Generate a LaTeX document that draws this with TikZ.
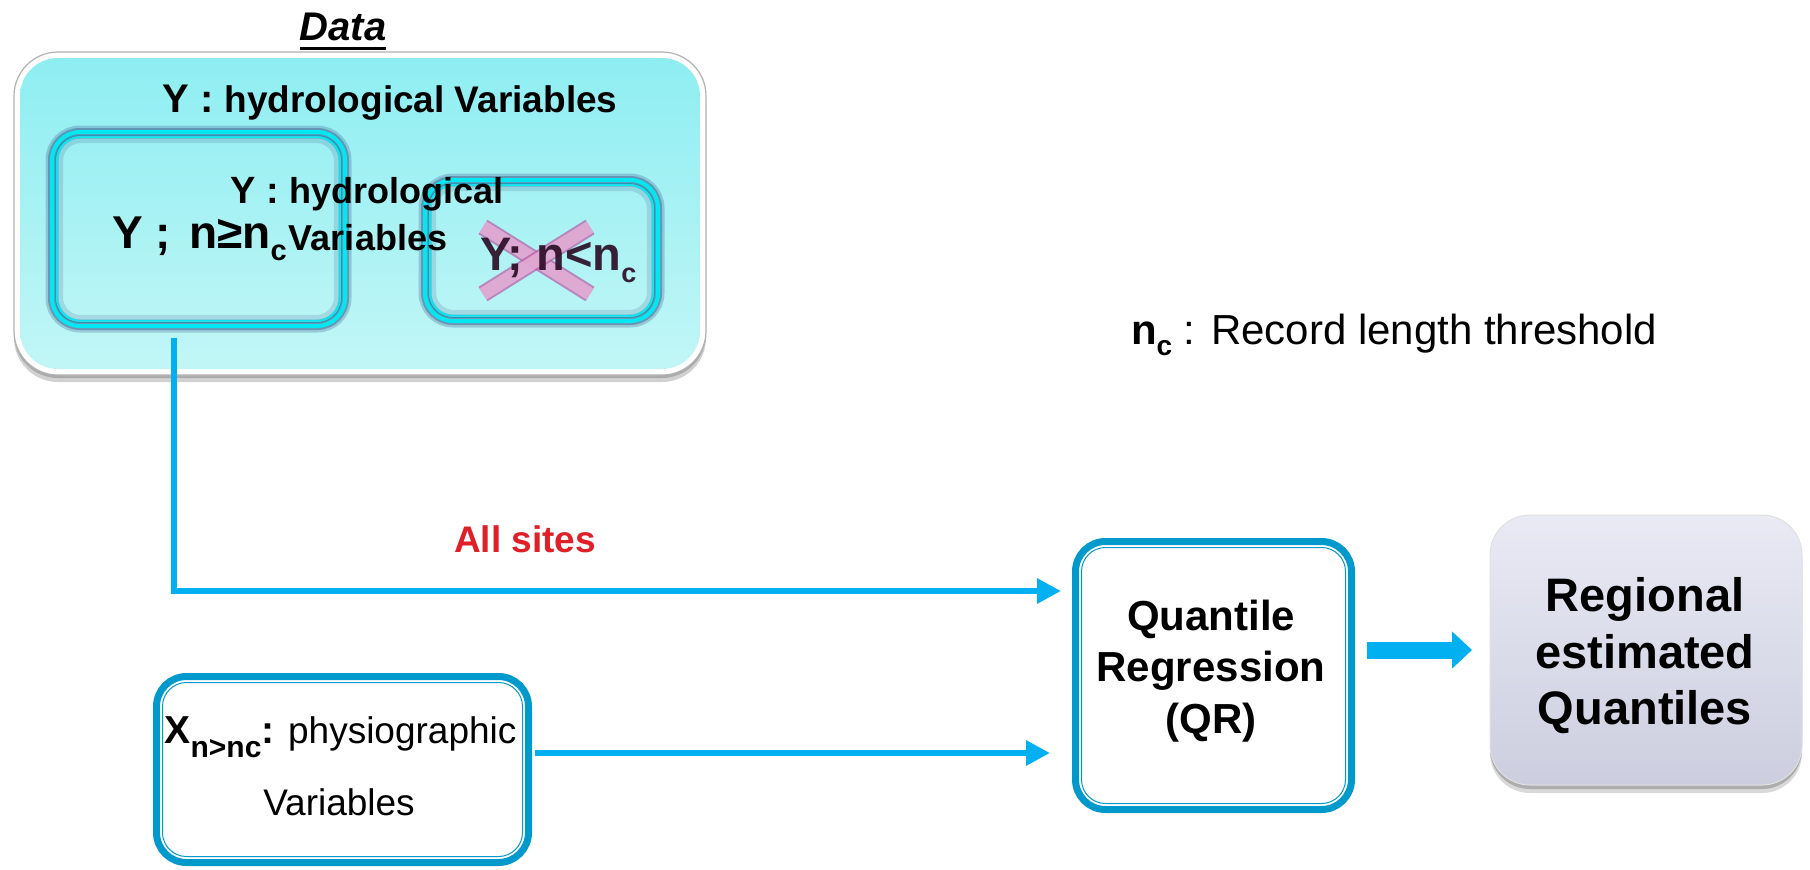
\documentclass[tikz,border=0pt]{standalone}
\usepackage{fontspec}
\setmainfont{Liberation Sans}
\usetikzlibrary{arrows.meta,shadows}

\definecolor{flowblue}{RGB}{0,176,240}
\definecolor{qrblue}{RGB}{0,153,204}
\definecolor{aquatop}{RGB}{142,238,242}
\definecolor{aquabot}{RGB}{194,246,246}
\definecolor{ringcyan}{RGB}{0,232,242}
\definecolor{ringdark}{RGB}{60,90,140}
\definecolor{ringmid}{RGB}{40,150,180}
\definecolor{regtop}{RGB}{233,234,244}
\definecolor{regbot}{RGB}{204,206,223}
\definecolor{crossfill}{RGB}{232,178,216}
\definecolor{crossedge}{RGB}{185,90,165}
\definecolor{sitered}{RGB}{224,32,40}
\definecolor{crossink}{RGB}{40,10,35}

\newcommand{\setfs}[2]{\fontsize{#1}{#2}\selectfont}

% glowing cyan double frame round a named node
\newcommand{\ringframe}[1]{%
  \draw[ringdark, line width=6.5pt, opacity=0.28, rounded corners=14pt]
    (#1.north west) rectangle (#1.south east);
  \draw[ringdark, line width=4pt, opacity=0.45, rounded corners=14pt]
    (#1.north west) rectangle (#1.south east);
  \draw[ringcyan, line width=2pt, rounded corners=14pt]
    (#1.north west) rectangle (#1.south east);
  \draw[ringmid, line width=0.5pt, rounded corners=12pt]
    ([shift={(1.8pt,-1.8pt)}]#1.north west) rectangle ([shift={(-1.8pt,1.8pt)}]#1.south east);
  \draw[ringcyan, line width=0.9pt, rounded corners=11.5pt]
    ([shift={(2.6pt,-2.6pt)}]#1.north west) rectangle ([shift={(-2.6pt,2.6pt)}]#1.south east);
  \draw[ringdark, line width=2.5pt, opacity=0.18, rounded corners=10pt]
    ([shift={(4.3pt,-4.3pt)}]#1.north west) rectangle ([shift={(-4.3pt,4.3pt)}]#1.south east);
}

% thin inner line of the blue double frames
\newcommand{\innerline}[1]{%
  \draw[qrblue, line width=0.5pt, rounded corners=12pt]
    ([shift={(3pt,-3pt)}]#1.north west) rectangle ([shift={(-3pt,3pt)}]#1.south east);
}

\begin{document}
\begin{tikzpicture}[x=0.5pt, y=-0.5pt,
  every node/.style={inner sep=0pt, outer sep=0pt},
  databox/.style={minimum width=346pt, minimum height=161.5pt, rounded corners=22pt,
    fill=white, draw=black!30, line width=0.6pt,
    drop shadow={shadow xshift=0pt, shadow yshift=-3.5pt, opacity=0.18, fill=black},
    drop shadow={shadow xshift=0pt, shadow yshift=-1.5pt, opacity=0.18, fill=black}},
  bluebox/.style={draw=qrblue, line width=3.5pt, rounded corners=15pt, fill=white},
  regbox/.style={minimum width=156pt, minimum height=135pt, rounded corners=20pt,
    top color=regtop, bottom color=regbot, draw=black!12, line width=0.5pt,
    drop shadow={shadow xshift=0pt, shadow yshift=-4pt, opacity=0.15, fill=black},
    drop shadow={shadow xshift=0pt, shadow yshift=-2pt, opacity=0.2, fill=black}},
  flow/.style={draw=flowblue, line width=3pt, -{Triangle[length=12pt,width=12pt]}},
  bar/.style={line width=#1, line cap=butt},
]
\fill[white] (0,0) rectangle (1810,869);
\useasboundingbox (0,0) rectangle (1810,869);

% title
\node[anchor=base, font=\setfs{20pt}{24pt}\bfseries\itshape] (title) at (343,40) {Data};
\draw[line width=1.5pt] ([yshift=-4pt]title.base west) -- ([yshift=-4pt]title.base east);

% data container
\node[databox] (data) at (360,213.5) {};
\shade[top color=aquatop, bottom color=aquabot, rounded corners=19pt]
  ([shift={(3pt,-3pt)}]data.north west) rectangle ([shift={(-3pt,3pt)}]data.south east);

\node[anchor=base, font=\bfseries] (yall) at (390,112)
  {\setfs{20pt}{24pt}Y :\ \setfs{18.5pt}{22pt}hydrological Variables};

% record subsets
\node[minimum width=146.5pt, minimum height=97pt] (yb) at (198.5,229) {};
\ringframe{yb}
\node[minimum width=116.5pt, minimum height=70.5pt] (ys) at (541.5,250.5) {};
\ringframe{ys}

\node[anchor=base west, font=\bfseries\setfs{23pt}{27pt}] (ylong) at (112,248)
  {Y ;\hspace{0.4em}n≥n\raisebox{-6pt}{\setfs{14.5pt}{15pt}c}};
\node[anchor=base, font=\bfseries\setfs{18pt}{22pt}] (yh1) at (367,203)
  {{\setfs{19pt}{22pt}Y :} hydrological};
\node[anchor=base, font=\bfseries\setfs{18pt}{22pt}] (yh2) at (368,250) {Variables};

% the cross over the short records
\coordinate (c1a) at (483,227);
\coordinate (c1b) at (590,294);
\coordinate (c2a) at (483,294);
\coordinate (c2b) at (590,227);
\draw[bar=8.5pt, crossedge, opacity=0.7] (c1a) -- (c1b);
\draw[bar=6.5pt, crossfill, opacity=0.8] (c1a) -- (c1b);
\draw[bar=8.5pt, crossedge, opacity=0.7] (c2a) -- (c2b);
\draw[bar=6.5pt, crossfill, opacity=0.8] (c2a) -- (c2b);

\node[anchor=base west, font=\bfseries\setfs{23.5pt}{27pt}, text=crossink, text opacity=0.9] (yshort) at (480,270)
  {Y; n<n\raisebox{-6pt}{\setfs{13.5pt}{15pt}c}};

% legend
\node[anchor=base west, font=\setfs{21pt}{25pt}] (ncnote) at (1131,344)
  {\textbf{n\raisebox{-5.5pt}{\setfs{14pt}{15pt}c}} : Record length threshold};

% physiographic variables
\node[bluebox, minimum width=186pt, minimum height=93pt] (xb) at (342.5,769.5) {};
\innerline{xb}
\node[anchor=base, font=\setfs{18.5pt}{22pt}] (xl1) at (340.5,743)
  {\textbf{\setfs{19.5pt}{22pt}X\raisebox{-7pt}{\setfs{15pt}{15pt}n>nc}:} physiographic};
\node[anchor=base, font=\setfs{18.5pt}{22pt}] (xl2) at (339,815) {Variables};

% quantile regression
\node[bluebox, minimum width=138pt, minimum height=134pt] (qr) at (1213.5,675.5) {};
\innerline{qr}
\node[align=center, font=\bfseries\setfs{21pt}{25.75pt}] (qrtext) at (1211,671)
  {Quantile\\Regression\\(QR)};

% result
\node[regbox] (reg) at (1646,650) {};
\node[align=center, font=\bfseries\setfs{23.5pt}{28.25pt}] (regtext) at (1645,656)
  {Regional\\estimated\\Quantiles};

% connectors
\coordinate (turn) at (174,591);
\draw[flow, shorten <=6pt, shorten >=7.25pt] (yb.south -| turn) -- (turn) -- (qr.west |- turn);
\node[anchor=base west, font=\bfseries\setfs{18.5pt}{22pt}, text=sitered] (allsites) at (454,552) {All sites};

\coordinate (xout) at (535,753);
\draw[flow, shorten <=3.25pt, shorten >=12.75pt] (xb.east |- xout) -- (qr.west |- xout);

\draw[flowblue, line width=8.5pt, -{Triangle[length=10pt,width=18pt]},
  shorten <=7.75pt, shorten >=9pt] (qr.east |- reg.west) -- (reg.west);
\end{tikzpicture}
\end{document}
